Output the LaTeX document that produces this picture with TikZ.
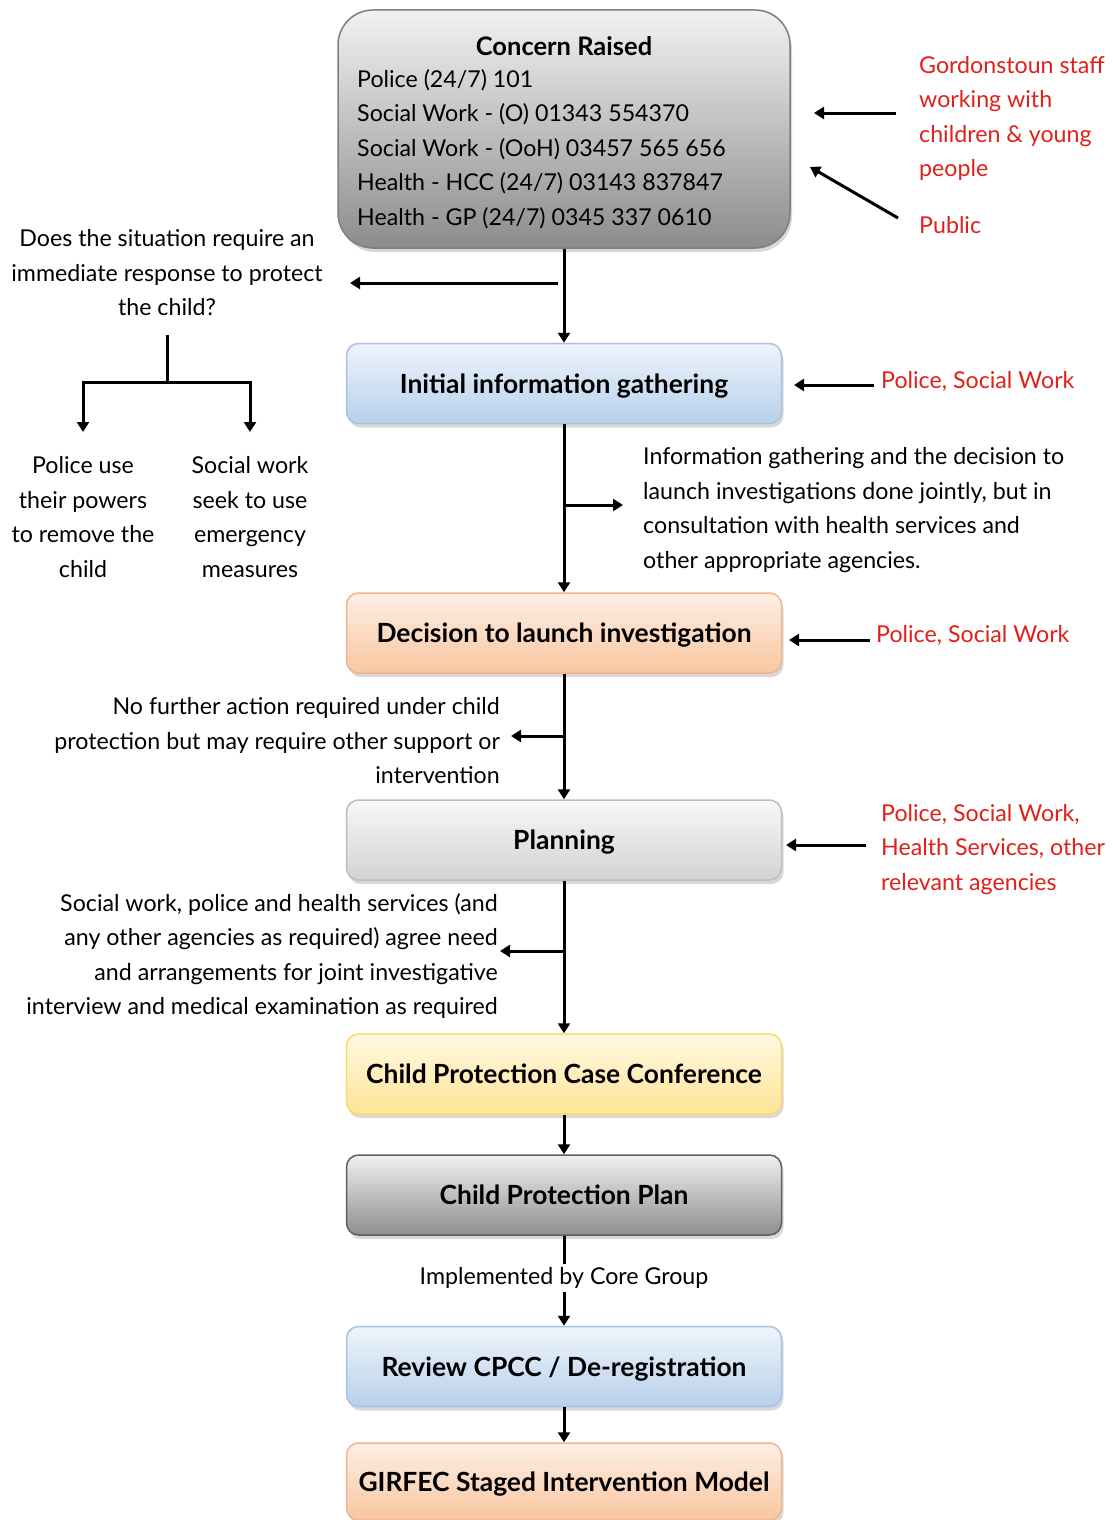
\documentclass[tikz,border=0pt]{standalone}
\usepackage{fontspec}
\setmainfont{Lato}
\usetikzlibrary{arrows.meta,shadows}

\definecolor{redtxt}{HTML}{E0201A}
\definecolor{greyTop}{HTML}{F2F2F2}\definecolor{greyBot}{HTML}{8C8C8C}\definecolor{greyDraw}{HTML}{7F7F7F}
\definecolor{blueTop}{HTML}{EEF4FB}\definecolor{blueBot}{HTML}{B7D0EB}\definecolor{blueDraw}{HTML}{A5C2E2}
\definecolor{orTop}{HTML}{FDEFE5}\definecolor{orBot}{HTML}{F9C6A0}\definecolor{orDraw}{HTML}{F2B48A}
\definecolor{lgTop}{HTML}{F8F8F8}\definecolor{lgBot}{HTML}{D2D2D2}\definecolor{lgDraw}{HTML}{BDBDBD}
\definecolor{yeTop}{HTML}{FFF9E3}\definecolor{yeBot}{HTML}{FFE495}\definecolor{yeDraw}{HTML}{FFD966}
\definecolor{dgTop}{HTML}{F0F0F0}\definecolor{dgBot}{HTML}{8E8E8E}\definecolor{dgDraw}{HTML}{5F5F5F}

\tikzset{
  stage/.style={rounded corners=12pt, minimum width=435pt, minimum height=80pt,
    line width=1.5pt, font=\fontsize{26.4}{30}\selectfont\bfseries, text depth=0pt,
    drop shadow={shadow xshift=2pt, shadow yshift=-4pt, opacity=0.3}},
  greybox/.style={top color=greyTop, bottom color=greyBot, draw=greyDraw},
  bluebox/.style={top color=blueTop, bottom color=blueBot, draw=blueDraw},
  orangebox/.style={top color=orTop, bottom color=orBot, draw=orDraw},
  lightbox/.style={top color=lgTop, bottom color=lgBot, draw=lgDraw},
  yellowbox/.style={top color=yeTop, bottom color=yeBot, draw=yeDraw},
  darkbox/.style={top color=dgTop, bottom color=dgBot, draw=dgDraw},
  body/.style={font=\fontsize{23.2}{34.5}\selectfont, inner sep=0pt},
  note/.style={body, text=redtxt, align=left},
  flow/.style={line width=3pt, -{Triangle[width=12pt,length=10pt]}},
  plain/.style={line width=3pt},
}

\begin{document}
\begin{tikzpicture}[x=1pt,y=-1pt]
\fill[white] (0,0) rectangle (1112,1520);
\useasboundingbox (0,0) rectangle (1112,1520);

% main column of stages
\node[stage, greybox, minimum width=452pt, minimum height=238pt, rounded corners=35pt] (concern) at (564,129) {};
\node[body, font=\fontsize{25.5}{34.5}\selectfont\bfseries] (concerntitle) at (564,46) {Concern Raised};
\node[body, align=left, anchor=north west] (contacts) at (357,69) {Police (24/7) 101\\
Social Work - (O) 01343 554370\\
Social Work - (OoH) 03457 565 656\\
Health - HCC (24/7) 03143 837847\\
Health - GP (24/7) 0345 337 0610};

\node[stage, bluebox]   (initial)  at (564,383.5) {Initial information gathering};
\node[stage, orangebox] (decision) at (564,633)   {Decision to launch investigation};
\node[stage, lightbox]  (planning) at (564,840)   {Planning};
\node[stage, yellowbox] (cpcc)     at (564,1074)  {Child Protection Case Conference};
\node[stage, darkbox]   (cpp)      at (564,1195)  {Child Protection Plan};
\node[stage, bluebox]   (review)   at (564,1366.5){Review CPCC / De-registration};
\node[stage, orangebox, minimum height=77pt] (girfec) at (564,1481.5) {GIRFEC Staged Intervention Model};

% side texts
\node[body, align=center] (question) at (167,273) {Does the situation require an\\ immediate response to protect\\ the child?};
\node[body, align=center] (policeuse) at (83,517) {Police use\\ their powers\\ to remove the\\ child};
\node[body, align=center] (socialuse) at (250,517) {Social work\\ seek to use\\ emergency\\ measures};
\node[body, align=left, anchor=west] (jointinfo) at (643,510) {Information gathering and the decision to\\ launch investigations done jointly, but in\\ consultation with health services and\\ other appropriate agencies.};
\node[body, align=right, anchor=east] (nofurther) at (500,741) {No further action required under child\\ protection but may require other support or\\ intervention};
\node[body, align=right, anchor=east] (agree) at (498,956) {Social work, police and health services (and\\ any other agencies as required) agree need\\ and arrangements for joint investigative\\ interview and medical examination as required};
\node[body, fill=white, inner ysep=3pt] (coregroup) at (564,1278) {Implemented by Core Group};

% red sources
\node[note, anchor=north west] (staff) at (919,56) {Gordonstoun staff\\ working with\\ children \& young\\ people};
\node[note, anchor=west] (public) at (919,225) {Public};
\node[note, anchor=west] (src1) at (881,382) {Police, Social Work};
\node[note, anchor=west] (src2) at (876,636) {Police, Social Work};
\node[note, anchor=north west] (src3) at (881,804) {Police, Social Work,\\ Health Services, other\\ relevant agencies};

% connectors along the main column
\draw[flow] (concern.south) -- (initial.north);
\draw[flow] (initial.south) -- (decision.north);
\draw[flow] (decision.south) -- (planning.north);
\draw[flow] (planning.south) -- (cpcc.north);
\draw[flow] (cpcc.south) -- (cpp.north);
\draw[plain] (cpp.south) -- (coregroup.north);
\draw[flow] (coregroup.south) -- (review.north);
\draw[flow] (review.south) -- (girfec.north);

% side branches
\coordinate (qtip) at (350,283);
\draw[flow] (558,283) -- (qtip);
\coordinate (fork) at (167,382);
\draw[plain] (167,335) -- (fork);
\coordinate (ptip) at (83,432);
\coordinate (stip) at (250,432);
\draw[flow] (fork) -| (ptip);
\draw[flow] (fork) -| (stip);
\coordinate (jtip) at (623,505);
\draw[flow] (564,505) -- (jtip);
\coordinate (ntip) at (511,736);
\draw[flow] (564,736) -- (ntip);
\coordinate (atip) at (500,951);
\draw[flow] (564,951) -- (atip);

% incoming arrows from the red sources
\coordinate (stafftip) at (814,113);
\draw[flow] (896,113) -- (stafftip);
\coordinate (publictip) at (810,167);
\draw[flow] (898,218) -- (publictip);
\coordinate (t1) at (794,385);
\draw[flow] (874,385) -- (t1);
\coordinate (t2) at (789,640);
\draw[flow] (870,640) -- (t2);
\coordinate (t3) at (786,845);
\draw[flow] (866,845) -- (t3);
\end{tikzpicture}
\end{document}
